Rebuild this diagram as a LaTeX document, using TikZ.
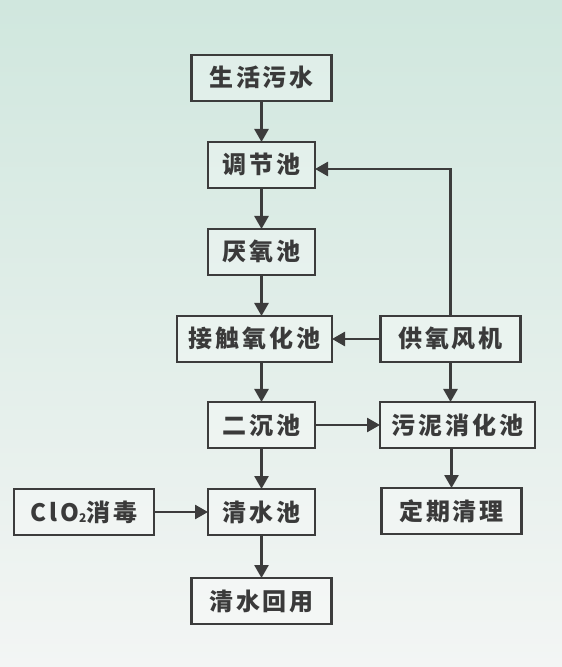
\documentclass[tikz,border=0pt]{standalone}
\usepackage{fontspec}
\setmainfont{Noto Sans CJK SC}
\usetikzlibrary{arrows.meta, positioning}
\definecolor{bgtop}{RGB}{208, 231, 222}
\definecolor{bgbottom}{RGB}{243, 245, 244}
\definecolor{boxline}{RGB}{60, 60, 60}
\definecolor{boxtext}{RGB}{58, 58, 58}
\newcommand\cjkfont{\fontsize{24bp}{28bp}\selectfont\bfseries\addfontfeature{LetterSpace=12}}
\tikzset{
  procbox/.style={
    rectangle, draw=boxline, line width=2.6bp, outer sep=0pt,
    fill=white, fill opacity=0.3, text opacity=1, text=boxtext,
    minimum width=107bp, minimum height=46bp, inner xsep=2bp,
    text height=20bp, text depth=2bp, font=\cjkfont
  },
  longbox/.style={procbox, minimum width=140bp},
  widebox/.style={procbox, minimum width=155bp},
  flow/.style={line width=2.6bp, color=boxline, -{Triangle[width=14bp, length=13bp]}}
}

\begin{document}
\begin{tikzpicture}[x=1bp, y=1bp]

  %% background
  \shade[top color=bgtop, bottom color=bgbottom] (0,0) rectangle (562,667);

  %% main line
  \node[longbox] (sewage) at (261.5,589) {生活污水};
  \node[procbox, below=41bp of sewage] (adjust) {调节池};
  \node[procbox, below=41bp of adjust] (anaerobic) {厌氧池};
  \node[widebox, below=41bp of anaerobic, xshift=-7bp] (contact) {接触氧化池};
  \node[procbox, below=40bp of contact, xshift=7bp] (settle) {二沉池};
  \node[procbox, below=41bp of settle] (clear) {清水池};
  \node[longbox, below=43bp of clear] (reuse) {清水回用};

  %% side branches
  \node[longbox, right=48.5bp of contact] (blower) {供氧风机};
  \node[widebox, below=40bp of blower, xshift=7bp] (sludge) {污泥消化池};
  \node[longbox, below=40bp of sludge, xshift=-6bp] (cleanup) {定期清理};
  \node[longbox, left=54bp of clear] (disinfect)
    {ClO\raisebox{-1bp}{\fontsize{12bp}{12bp}\selectfont 2}消毒};

  %% arrows
  \draw[flow] (sewage) -- (adjust);
  \draw[flow] (adjust) -- (anaerobic);
  \draw[flow] (anaerobic) -- (anaerobic |- contact.north);
  \draw[flow] (contact.south -| settle) -- (settle);
  \draw[flow] (settle) -- (clear);
  \draw[flow] (clear) -- (reuse);

  \draw[flow] (blower) -- (contact);
  \draw[flow] (blower.north) |- ([yshift=-4bp]adjust.east);
  \draw[flow] (blower.south) -- (blower.south |- sludge.north);
  \draw[flow] (settle) -- (settle -| sludge.west);
  \draw[flow] (sludge.south -| cleanup) -- (cleanup);
  \draw[flow] (disinfect) -- (clear);

\end{tikzpicture}
\end{document}
